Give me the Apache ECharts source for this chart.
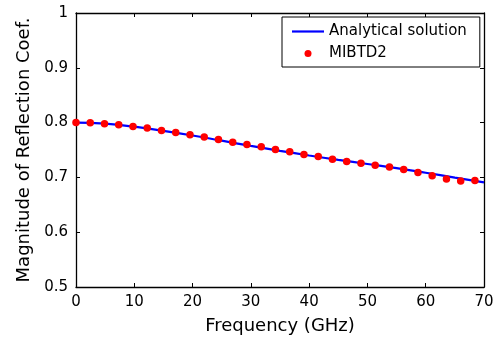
<!DOCTYPE html>
<html>
<head>
<meta charset="utf-8">
<script src="https://cdn.jsdelivr.net/npm/echarts@6/dist/echarts.min.js"></script>
<style>
html,body{margin:0;padding:0;background:#fff;}
#c{width:497px;height:340px;}
</style>
</head>
<body>
<div id="c"></div>
<script>
// Analytical solution (blue line)
const lineFreq = [0, 5, 10, 15, 20, 25, 30, 35, 40, 45, 50, 55, 60, 65, 70];
const lineMag = [0.800, 0.798, 0.7925, 0.785, 0.7765, 0.767, 0.7575, 0.7485, 0.740, 0.732, 0.7245, 0.717, 0.7085, 0.6995, 0.691];

// MIBTD2 (red markers)
const mibFreq = [0, 2.44, 4.89, 7.33, 9.78, 12.22, 14.67, 17.11, 19.56, 22.0, 24.44, 26.89, 29.33, 31.78, 34.22, 36.67, 39.11, 41.56, 44.0, 46.44, 48.89, 51.33, 53.78, 56.22, 58.67, 61.11, 63.56, 66.0, 68.44];
const mibMag = [0.800, 0.7995, 0.798, 0.796, 0.793, 0.790, 0.7855, 0.782, 0.778, 0.7735, 0.769, 0.764, 0.760, 0.756, 0.751, 0.747, 0.742, 0.738, 0.733, 0.729, 0.726, 0.722, 0.719, 0.7145, 0.709, 0.703, 0.697, 0.6933, 0.6945];

const xTicks = [0, 10, 20, 30, 40, 50, 60, 70];
const yTicks = ['0.5', '0.6', '0.7', '0.8', '0.9', '1'];

const seriesNames = ['Analytical solution', 'MIBTD2'];

const FONT = 'DejaVu Sans';
const chart = echarts.init(document.getElementById('c'), null, {renderer: 'canvas'});

const axisLine = {show: true, onZero: false, lineStyle: {color: '#000', width: 1.3}};
const tick = {show: true, inside: true, length: 4, lineStyle: {color: '#000', width: 1}};

chart.setOption({
  animation: false,
  backgroundColor: '#fff',
  textStyle: {fontFamily: FONT},
  grid: {left: 76, right: 13, top: 13, bottom: 52, containLabel: false},
  legend: {
    orient: 'vertical',
    left: 282,
    top: 17,
    padding: [6, 13, 5, 10],
    itemWidth: 32,
    itemHeight: 7,
    itemGap: 5,
    symbolKeepAspect: true,
    borderColor: '#000',
    borderWidth: 1,
    borderRadius: 0,
    backgroundColor: '#fff',
    textStyle: {fontFamily: FONT, fontSize: 15, color: '#000', lineHeight: 17},
    data: [
      {name: seriesNames[0], icon: 'path://M0,0L32,0L32,2.2L0,2.2Z', itemStyle: {color: '#0000ff', opacity: 1}},
      {name: seriesNames[1], icon: 'circle', itemStyle: {color: '#ff0000', opacity: 1}}
    ]
  },
  xAxis: [
    {
      type: 'value', min: 0, max: 70, interval: 10, position: 'bottom',
      name: 'Frequency (GHz)', nameLocation: 'middle', nameGap: 30,
      nameTextStyle: {fontFamily: FONT, fontSize: 18, color: '#000'},
      axisLine: axisLine, axisTick: tick, splitLine: {show: false},
      axisLabel: {fontFamily: FONT, fontSize: 15, color: '#000', margin: 8,
        formatter: v => xTicks.includes(v) ? String(v) : ''}
    },
    {
      type: 'value', min: 0, max: 70, interval: 10, position: 'top',
      axisLine: axisLine, axisTick: tick, splitLine: {show: false},
      axisLabel: {show: false}
    }
  ],
  yAxis: [
    {
      type: 'value', min: 0.5, max: 1, interval: 0.1, position: 'left',
      name: 'Magnitude of Reflection Coef.', nameLocation: 'middle', nameGap: 42,
      nameTextStyle: {fontFamily: FONT, fontSize: 18, color: '#000'},
      axisLine: axisLine, axisTick: tick, splitLine: {show: false},
      axisLabel: {fontFamily: FONT, fontSize: 15, color: '#000', margin: 8,
        formatter: v => yTicks[Math.round((v - 0.5) * 10)]}
    },
    {
      type: 'value', min: 0.5, max: 1, interval: 0.1, position: 'right',
      axisLine: axisLine, axisTick: tick, splitLine: {show: false},
      axisLabel: {show: false}
    }
  ],
  series: [
    {
      name: seriesNames[0], type: 'line', xAxisIndex: 0, yAxisIndex: 0,
      data: lineFreq.map((f, i) => [f, lineMag[i]]),
      smooth: true, symbol: 'none', showSymbol: false,
      lineStyle: {color: '#0000ff', width: 2.2},
      itemStyle: {color: '#0000ff'},
      z: 2
    },
    {
      name: seriesNames[1], type: 'scatter', xAxisIndex: 0, yAxisIndex: 0,
      data: mibFreq.map((f, i) => [f, mibMag[i]]),
      symbol: 'circle', symbolSize: 7.5,
      itemStyle: {color: '#ff0000', opacity: 1},
      z: 3
    }
  ]
});
</script>
</body>
</html>
